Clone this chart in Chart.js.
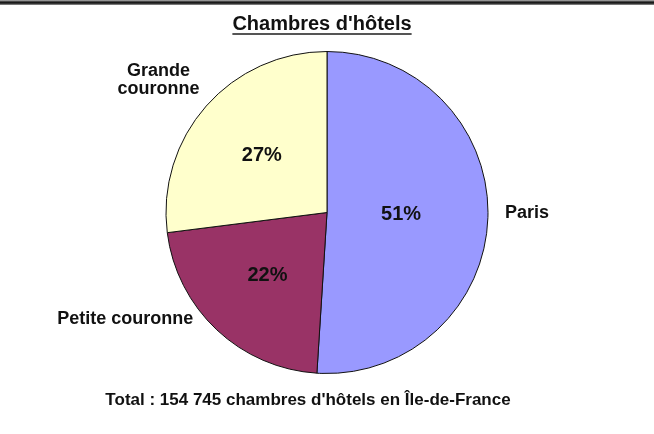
<!DOCTYPE html>
<html lang="fr">
<head>
<meta charset="utf-8">
<title>Chambres d'hôtels</title>
<script src="https://cdn.jsdelivr.net/npm/chart.js@4.4.1/dist/chart.umd.min.js"></script>
<style>
  html, body { margin: 0; padding: 0; background: #fff; }
  #wrap { position: relative; width: 654px; height: 434px; }
  #rule {
    position: absolute; left: 0; top: 0; width: 654px; height: 5px;
    background: linear-gradient(#bbb, #222 40%, #111 60%, #999);
  }
  canvas { display: block; }
</style>
</head>
<body>
<div id="wrap">
  <canvas id="pie" width="654" height="434"></canvas>
  <div id="rule"></div>
</div>
<script>
const chartTitle = "Chambres d'hôtels";
const categories = ["Paris", "Petite couronne", ["Grande", "couronne"]];
const shares = [51, 22, 27];
const sliceColors = ["#9999ff", "#993366", "#ffffcc"];
const totalRooms = 154745;

// where the percentage sits along the slice radius
const innerLabelRadius = [0.46, 0.54, 0.54];
// small shifts for the category names outside the pie
const outerNudge = [[0, -5], [-12, -23], [6, -15]];

const FONT = "'Liberation Sans', Arial, sans-serif";

function groupThousands(n) {
  return String(n).replace(/\B(?=(\d{3})+(?!\d))/g, " ");
}

const footerText = "Total : " + groupThousands(totalRooms) + " chambres d'hôtels en Île-de-France";

const pieLabels = {
  id: "pieLabels",
  afterDatasetsDraw(chart) {
    const ctx = chart.ctx;
    const meta = chart.getDatasetMeta(0);
    const data = chart.data.datasets[0].data;
    const total = data.reduce((a, b) => a + b, 0);

    ctx.save();
    ctx.fillStyle = "#111";
    ctx.textBaseline = "middle";

    meta.data.forEach((arc, i) => {
      const { x, y, startAngle, endAngle, outerRadius } = arc.getProps(
        ["x", "y", "startAngle", "endAngle", "outerRadius"], true);
      const mid = (startAngle + endAngle) / 2;
      const cos = Math.cos(mid), sin = Math.sin(mid);

      // percentage inside the slice
      const r = outerRadius * innerLabelRadius[i];
      ctx.font = "bold 20px " + FONT;
      ctx.textAlign = "center";
      ctx.fillText(Math.round(data[i] / total * 100) + "%", x + cos * r, y + sin * r);

      // category name outside
      const lines = [].concat(chart.data.labels[i]);
      ctx.font = "bold 18px " + FONT;
      const lineH = 18;
      const blockW = Math.max(...lines.map(l => ctx.measureText(l).width));
      const ax = x + cos * (outerRadius + 17) + outerNudge[i][0];
      const ay = y + sin * (outerRadius + 17) + outerNudge[i][1];
      const cx = cos >= 0 ? ax + blockW / 2 : ax - blockW / 2;
      const top = ay - (lines.length - 1) * lineH / 2;
      lines.forEach((l, k) => ctx.fillText(l, cx, top + k * lineH));
    });
    ctx.restore();
  },
  afterDraw(chart) {
    const ctx = chart.ctx;
    ctx.save();
    ctx.fillStyle = "#111";
    ctx.textAlign = "center";
    ctx.textBaseline = "alphabetic";

    // underlined heading
    ctx.font = "bold 20px " + FONT;
    const tw = ctx.measureText(chartTitle).width;
    ctx.fillText(chartTitle, 322, 30);
    ctx.fillStyle = "#555";
    ctx.fillRect(322 - tw / 2, 33, tw, 2);

    // total line under the pie
    ctx.fillStyle = "#111";
    ctx.font = "bold 17px " + FONT;
    ctx.fillText(footerText, 308, 405);
    ctx.restore();
  }
};

new Chart(document.getElementById("pie"), {
  type: "pie",
  data: {
    labels: categories,
    datasets: [{
      data: shares,
      backgroundColor: sliceColors,
      borderColor: "#111",
      borderWidth: 1
    }]
  },
  options: {
    responsive: false,
    animation: false,
    events: [],
    layout: { padding: { top: 51, bottom: 60, left: 0, right: 0 } },
    plugins: {
      legend: { display: false },
      tooltip: { enabled: false }
    }
  },
  plugins: [pieLabels]
});
</script>
</body>
</html>
